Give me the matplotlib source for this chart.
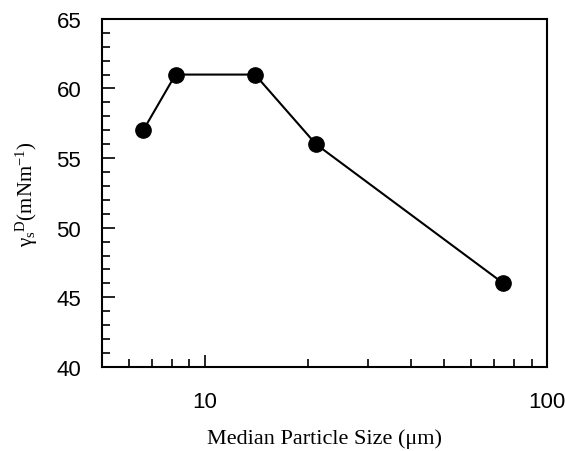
import matplotlib
matplotlib.use('Agg')
import matplotlib.pyplot as plt
from matplotlib.ticker import LogLocator, MultipleLocator, FixedFormatter, NullFormatter, FixedLocator

plt.rcParams['mathtext.fontset'] = 'custom'
plt.rcParams['mathtext.rm'] = 'Liberation Serif'
plt.rcParams['mathtext.it'] = 'Liberation Serif'

# median particle size (um) and dispersive surface energy (mN/m)
size_um = [6.6, 8.2, 14.0, 21.1, 74.5]
gamma_d = [57, 61, 61, 56, 46]

x_ticks = [10, 100]
x_ticklabels = ['10', '100']

fig = plt.figure(figsize=(5.65, 4.52), dpi=100)
ax = fig.add_axes([0.1805, 0.186, 0.788, 0.770])

ax.plot(size_um, gamma_d, color='black', lw=1.5, marker='o', ms=11,
        mfc='black', mec='black')

ax.set_xscale('log')
ax.set_xlim(5, 100)
ax.set_ylim(40, 65)

ax.xaxis.set_major_locator(FixedLocator(x_ticks))
ax.xaxis.set_major_formatter(FixedFormatter(x_ticklabels))
ax.xaxis.set_minor_locator(LogLocator(base=10, subs=range(2, 10)))
ax.xaxis.set_minor_formatter(NullFormatter())
ax.yaxis.set_major_locator(MultipleLocator(5))
ax.yaxis.set_minor_locator(MultipleLocator(1))

ax.tick_params(which='both', direction='in', top=False, right=False,
               width=1.2, labelsize=16)
ax.tick_params(which='major', length=9)
ax.tick_params(which='minor', length=6)
ax.tick_params(axis='y', pad=15)
ax.tick_params(axis='x', pad=17)
for lab in ax.get_xticklabels() + ax.get_yticklabels():
    lab.set_family('Liberation Sans')

for sp in ax.spines.values():
    sp.set_linewidth(1.5)

ax.set_xlabel('Median Particle Size (\u03bcm)', family='Liberation Serif',
              fontsize=16, labelpad=12)
ax.set_ylabel(r'$\mathrm{\gamma_s}^{\mathrm{D}}$(mNm$^{\mathrm{-1}}$)',
              family='Liberation Serif', fontsize=15, labelpad=12)

fig.savefig('out.png', dpi=100)
